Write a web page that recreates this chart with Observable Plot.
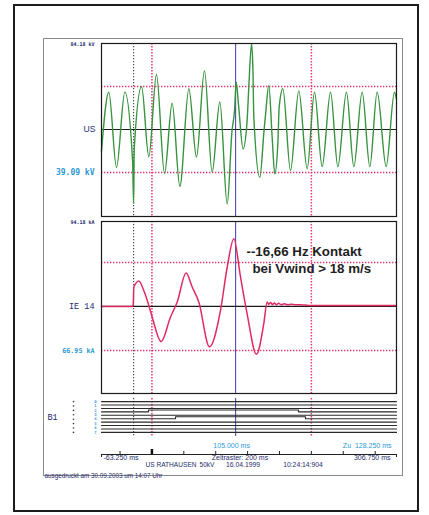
<!DOCTYPE html>
<html><head><meta charset="utf-8">
<script src="https://cdn.jsdelivr.net/npm/d3@7"></script>
<script src="https://cdn.jsdelivr.net/npm/@observablehq/plot@0.6"></script>
<style>
body{margin:0;background:#fff;}
#page{position:relative;width:429px;height:515px;overflow:hidden;font-family:"Liberation Sans",Arial,sans-serif;}
.box{position:absolute;box-sizing:border-box;}
</style></head><body><div id="page"></div>
<script>
// ---- time range & markers (ms)
const tMin = -63.25, tMax = 306.75;
const gridTimes = [0, 200];
const triggerTime = -23;
const cursorTime = 105;
const zuTime = 128.25;
const axisTicks = [-40, 0, 40, 80, 120, 160, 200, 240, 280];

// ---- US voltage trace (time ms, value in divisions)
const usTime = [-63.25,-54.1,-44.4,-34.0,-24.2,-23.0,-22.2,-13.0,-3.9,5.7,15.8,25.4,35.0,46.3,55.9,65.9,75.5,85.2,94.4,100.5,103.6,105.7,108.5,114.4,119.4,121.5,124.9,126.6,127.8,135.3,140.7,142.4,146.6,150.8,154.1,158.0,159.6,164.2,173.8,184.2,194.7,203.9,213.5,224.0,233.2,244.0,253.2,263.7,273.3,282.5,293.8,304.2,306.75];
const usValue = [-0.5,0.87,-0.88,0.87,-0.76,-1.72,-0.45,1.0,-0.63,1.28,-1.02,0.61,-1.32,0.95,-0.64,1.37,-0.99,0.64,-1.73,-0.02,0.44,1.10,0.6,-0.45,0.21,0.98,1.99,1.45,0.29,-1.11,0.0,0.33,1.02,-0.18,-1.03,-0.3,0.52,0.95,-0.95,0.90,-0.91,0.87,-0.86,0.87,-0.86,0.87,-0.86,0.87,-0.86,0.87,-0.86,0.87,0.7];

// ---- IE 14 current trace
const ieTime = [-63.25,-24.0,-23.4,-22.7,-16.4,-10.2,-3.9,0.3,11.6,23.3,31.7,42.9,50.5,58.8,72.2,86.0,94.4,102.7,111.1,119.4,131.1,140.3,144.5,146.5,149.0,151.0,153.5,156.0,159.0,162.0,166.0,170.0,175.0,180.0,186.0,192.0,199.0,306.75];
const ieValue = [0,0,0.05,0.44,0.58,0.36,0.02,-0.24,-0.80,-0.24,0.10,0.76,0.44,0.10,-0.92,-0.09,0.89,1.54,0.67,-0.17,-1.09,-0.39,0.10,0.05,0.09,0.04,0.08,0.04,0.07,0.04,0.06,0.04,0.05,0.04,0.04,0.03,0.02,0.02];

// ---- binary channels B1
const binChannels = [0,1,2,3,4,5,6,7,8,9];
const binSteps = [{ch:3, on:-4.3, off:183.8}, {ch:5, on:29.6, off:192.6}];
const binLabels = ["0","1","2","3","4","5","6","7"];

// ---- annotation
const annotation = [
  {t:118.6, v:1.25, text:"--16,66 Hz Kontakt"},
  {t:126.1, v:0.86, text:"bei Vwind > 18 m/s"}
];

const navy = "#262d6e", cyan = "#2b98d4", redGrid = "#e3386f";
const usData = usTime.map((t,i)=>({t, v:usValue[i]}));
const ieData = ieTime.map((t,i)=>({t, v:ieValue[i]}));
const binData = [];
for (const ch of binChannels) {
  const s = binSteps.find(d=>d.ch===ch);
  if (s) {
    binData.push({ch,t:tMin,y:-ch},{ch,t:s.on,y:-ch+0.55},{ch,t:s.off,y:-ch},{ch,t:tMax,y:-ch});
  } else {
    binData.push({ch,t:tMin,y:-ch},{ch,t:tMax,y:-ch});
  }
}

const page = document.getElementById("page");
function place(svg, top){ svg.style.position="absolute"; svg.style.left="0px"; svg.style.top=top+"px"; svg.style.overflow="visible"; svg.style.background="transparent"; page.appendChild(svg); }
function addBox(l,t,w,h,border){ const d=document.createElement("div"); d.className="box"; Object.assign(d.style,{left:l+"px",top:t+"px",width:w+"px",height:h+"px",border}); page.appendChild(d); }

addBox(13,4,406,508,"2px solid #1c1c1c");
addBox(43,38,360,438,"1px solid #8a8a8a");

const common = {width:429, marginLeft:101, marginRight:33, x:{domain:[tMin,tMax], axis:null}};
const vlines = () => [
  Plot.ruleX(gridTimes, {stroke:redGrid, strokeDasharray:"1.4,1.6", strokeWidth:1.5}),
  Plot.ruleX([triggerTime], {stroke:"#444", strokeDasharray:"1.2,1.8", strokeWidth:1.1}),
  Plot.ruleX([cursorTime], {stroke:"#3c3ca4", strokeWidth:1})
];

// Panel 1: US
place(Plot.plot({...common, height:220, marginTop:43, marginBottom:4,
  y:{domain:[-2.02,2], axis:null},
  marks:[
    Plot.ruleY([-1,1], {stroke:redGrid, strokeDasharray:"1.4,1.6", strokeWidth:1.5}),
    ...vlines(),
    Plot.ruleY([0], {stroke:"#1a1a1a", strokeWidth:1.1}),
    Plot.line(usData, {x:"t", y:"v", stroke:"#36933e", strokeWidth:1.4, curve:"monotone-x"}),
    Plot.frame({stroke:"#1a1a1a", strokeWidth:1.2}),
    Plot.text(["84.18 kV"], {frameAnchor:"top-left", dx:-7, dy:1, textAnchor:"end", lineAnchor:"middle", fontSize:5, fontWeight:"bold", fill:navy, fontFamily:"DejaVu Sans Mono"}),
    Plot.text(["US"], {y:[0], frameAnchor:"left", dx:-6, textAnchor:"end", fontSize:8.6, fill:navy, fontFamily:"Liberation Sans"}),
    Plot.text(["39.09 kV"], {y:[-1], frameAnchor:"left", dx:-7, textAnchor:"end", fontSize:8, fill:cyan, fontFamily:"DejaVu Sans Mono", fontWeight:"bold"})
  ]}), 0);

// Panel 2: IE 14
place(Plot.plot({...common, height:180, marginTop:3, marginBottom:5,
  y:{domain:[-1.98,1.93], axis:null},
  marks:[
    Plot.ruleY([-1,1], {stroke:redGrid, strokeDasharray:"1.4,1.6", strokeWidth:1.5}),
    ...vlines(),
    Plot.ruleY([0], {stroke:"#1a1a1a", strokeWidth:1.1}),
    Plot.line(ieData, {x:"t", y:"v", stroke:"#e02a62", strokeWidth:1.5, curve:"monotone-x"}),
    Plot.frame({stroke:"#1a1a1a", strokeWidth:1.2}),
    Plot.text(annotation, {x:"t", y:"v", text:"text", textAnchor:"start", fontSize:13.3, fontWeight:"bold", fill:"#1e1e1e", fontFamily:"Liberation Sans"}),
    Plot.text(["94.18 kA"], {frameAnchor:"top-left", dx:-7, dy:1, textAnchor:"end", lineAnchor:"middle", fontSize:5, fontWeight:"bold", fill:navy, fontFamily:"DejaVu Sans Mono"}),
    Plot.text(["IE 14"], {y:[0], frameAnchor:"left", dx:-7, textAnchor:"end", fontSize:8.5, fill:navy, fontFamily:"Liberation Mono"}),
    Plot.text(["66.95 kA"], {y:[-1], frameAnchor:"left", dx:-7, textAnchor:"end", fontSize:6.7, fill:cyan, fontFamily:"DejaVu Sans Mono", fontWeight:"bold"})
  ]}), 218);

// Panel 3: binary channels
place(Plot.plot({...common, height:48, marginTop:5, marginBottom:5,
  y:{domain:[-10.2,0.9], axis:null},
  marks:[
    ...vlines(),
    Plot.line(binData, {x:"t", y:"y", z:"ch", stroke:"#2a2a2a", strokeWidth:1.1, curve:"step-after"}),
    Plot.text(["B1"], {frameAnchor:"left", dx:-54, textAnchor:"start", fontSize:8.5, fill:navy, fontFamily:"Liberation Mono"}),
    Plot.text(binLabels, {y:(d,i)=>-i*9/7, frameAnchor:"left", dx:-5, textAnchor:"end", fontSize:3.9, fill:cyan, fontFamily:"DejaVu Sans Mono", fontWeight:"bold"}),
    Plot.dot(binLabels, {y:(d,i)=>-i*9/7, frameAnchor:"left", dx:-28, r:0.8, fill:"#333", stroke:"none"})
  ]}), 393);

// Panel 4: time axis & info
place(Plot.plot({...common, height:45, marginTop:17, marginBottom:25,
  y:{domain:[0,1], axis:null},
  marks:[
    Plot.axisX(axisTicks, {anchor:"top", tickSize:4, tickFormat:()=>"", stroke:"#222"}),
    Plot.axisX([0], {anchor:"top", tickSize:6, tickFormat:()=>"", stroke:"#111", strokeWidth:2.5}),
    Plot.frame({anchor:"top", stroke:"#222", strokeWidth:1}),
    Plot.tickX([tMin, tMax], {stroke:"#222", strokeWidth:1}),
    Plot.text([cursorTime], {x:d=>d, text:d=>d.toFixed(3)+" ms", frameAnchor:"top", dx:-4, dy:-11, fontSize:7, fill:cyan, fontFamily:"Liberation Sans"}),
    Plot.text([zuTime], {text:d=>"Zu  "+d.toFixed(3)+" ms", frameAnchor:"top-right", dx:-5, dy:-11, textAnchor:"end", fontSize:7, fill:cyan, fontFamily:"Liberation Sans"}),
    Plot.text([tMin], {text:d=>d.toFixed(3)+" ms", frameAnchor:"left", dx:2, dy:1.5, textAnchor:"start", fontSize:7, fill:navy, fontFamily:"Liberation Sans"}),
    Plot.text(["Zeitraster: 200 ms"], {frameAnchor:"middle", dx:-9, dy:1.5, fontSize:7, fill:navy, fontFamily:"Liberation Sans"}),
    Plot.text([tMax], {text:d=>d.toFixed(3)+" ms", frameAnchor:"right", dx:-6, dy:1.5, textAnchor:"end", fontSize:7, fill:navy, fontFamily:"Liberation Sans"}),
    Plot.text(["US RATHAUSEN"], {frameAnchor:"bottom", dx:-78, dy:9.5, fontSize:6.6, fill:navy, fontFamily:"Liberation Sans Narrow, Liberation Sans"}),
    Plot.text(["50kV"], {frameAnchor:"bottom", dx:-42, dy:9.5, fontSize:6.6, fill:navy, fontFamily:"Liberation Sans"}),
    Plot.text(["16.04.1999"], {frameAnchor:"bottom", dx:-6, dy:9.5, fontSize:6.8, fill:navy, fontFamily:"Liberation Sans"}),
    Plot.text(["10:24:14:904"], {frameAnchor:"bottom", dx:54, dy:9.5, fontSize:6.8, fill:navy, fontFamily:"Liberation Sans", letterSpacing:0.6}),
    Plot.text(["ausgedruckt am 30.09.2003 um 14:07 Uhr"], {frameAnchor:"bottom-left", dx:-57, dy:20, textAnchor:"start", fontSize:6.3, fill:navy, fontFamily:"Liberation Sans"})
  ]}), 437);
</script></body></html>
